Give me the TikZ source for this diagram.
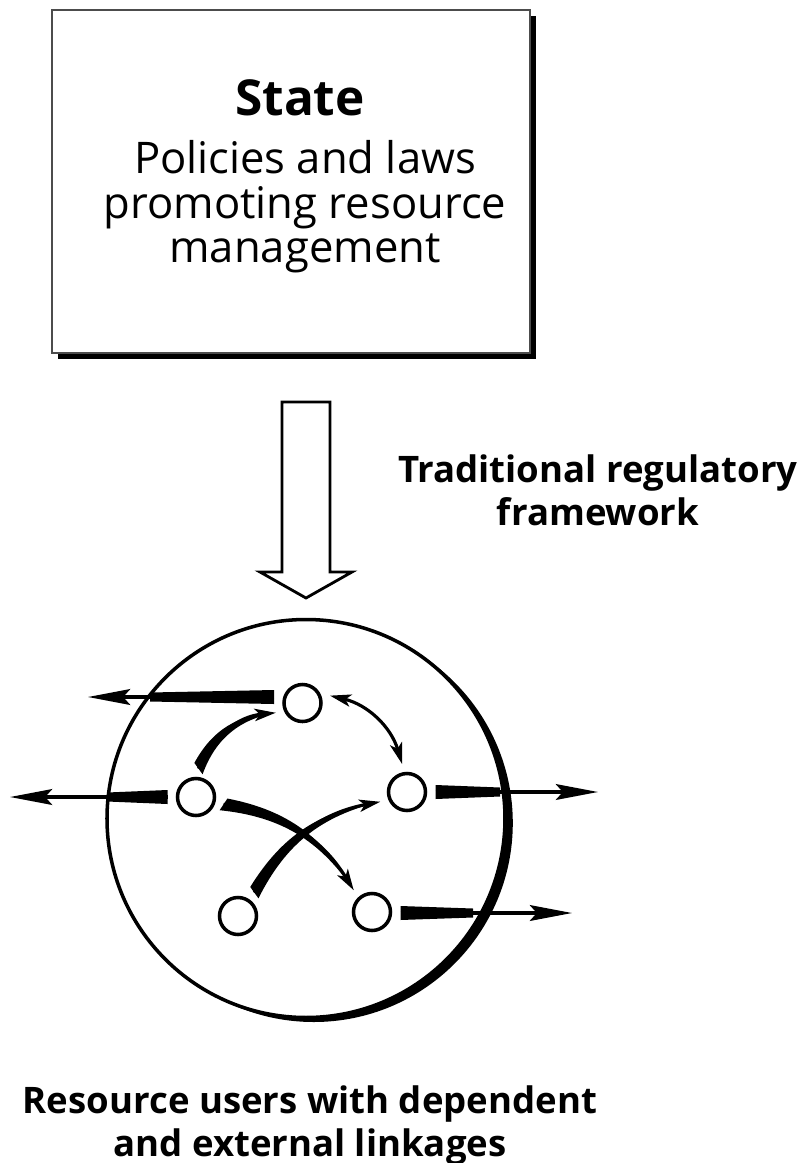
\documentclass[tikz,border=0pt]{standalone}
\usepackage{fontspec}
\setmainfont{Open Sans}
\usetikzlibrary{arrows.meta,calc,shadows}
\tikzset{
  bigtip/.tip={Stealth[length=12pt,width=4.5pt,inset=2pt]},
  smalltip/.tip={Stealth[length=6pt,width=3.5pt,inset=1.5pt]},
  user/.style={draw,circle,line width=1pt,minimum size=0.37cm,inner sep=0pt,outer sep=0.1cm},
  textblock/.style={align=center,inner sep=0pt,font=\fontsize{12.4}{12.65}\selectfont},
  boldblock/.style={align=center,inner sep=0pt,font=\fontsize{10.4}{12.2}\selectfont\bfseries}
}
% tapered curved connector: start, end, bend, tip
\newcommand{\taper}[4]{%
  \fill ($(#1)!0.07cm!90:(#2)$) to[bend left=#3] (#2) to[bend right=#3] ($(#1)!0.07cm!-90:(#2)$) -- cycle;
  \draw[-{#4},line width=0.9pt] (#1) to[bend left=#3] (#2);}
% straight outgoing link: start, end of bar, tip
\newcommand{\outlink}[3]{%
  \fill ($(#1)!0.07cm!90:(#3)$) -- ($(#2)!0.045cm!90:(#3)$) -- ($(#2)!0.045cm!-90:(#3)$) -- ($(#1)!0.07cm!-90:(#3)$) -- cycle;
  \draw[-bigtip,line width=0.9pt] (#1) -- (#3);}

\begin{document}
\begin{tikzpicture}
\useasboundingbox (0,0) rectangle (7.99,-11.63);

% state box
\node[draw=black!70,line width=0.6pt,fill=white,minimum width=4.78cm,minimum height=3.43cm,
  drop shadow={shadow xshift=0.06cm,shadow yshift=-0.06cm,opacity=1,fill=black}] (state) at (2.91,-1.815) {};
\node[anchor=base,font=\fontsize{14.1}{17}\selectfont\bfseries] (title) at (3.00,-1.15) {State};
\node[textblock,anchor=north] (policies) at (3.05,-1.40) {Policies and laws\\promoting resource\\management};

% hollow arrow
\draw[line width=0.8pt,fill=white] (2.82,-4.02) -- (3.30,-4.02) -- (3.30,-5.72) -- (3.52,-5.72)
  -- (3.06,-5.98) -- (2.60,-5.72) -- (2.82,-5.72) -- cycle;
\node[boldblock,anchor=north] (regulation) at (5.98,-4.54) {Traditional regulatory\\framework};

% users
\node[draw,circle,line width=1pt,minimum size=3.98cm,inner sep=0pt] (users) at (3.06,-8.185) {};
\begin{scope}[even odd rule]
  \clip (users.center) circle (1.99) (-1,1) rectangle (9,-13);
  \fill ($(users.center)+(-30:0.09)$) circle (1.99);
\end{scope}

\node[user] (t) at (3.025,-7.03) {};
\node[user] (ul) at (1.96,-7.97) {};
\node[user] (r) at (4.07,-7.92) {};
\node[user] (bl) at (2.38,-9.16) {};
\node[user] (br) at (3.72,-9.12) {};

\coordinate (in1) at (1.50,-6.97);
\coordinate (in2) at (1.07,-7.97);
\coordinate (in3) at (5.00,-7.92);
\coordinate (in4) at (4.73,-9.13);
\coordinate (out1) at (0.88,-6.97);
\coordinate (out2) at (0.10,-7.97);
\coordinate (out3) at (5.98,-7.92);
\coordinate (out4) at (5.72,-9.13);

\outlink{t.west |- out1}{in1}{out1}
\outlink{ul.west}{in2}{out2}
\outlink{r.east}{in3}{out3}
\outlink{br.east |- out4}{in4}{out4}

\taper{ul.85}{t.200}{30}{smalltip}
\taper{ul.-15}{br.130}{25}{smalltip}
\taper{bl.55}{r.200}{25}{smalltip}
\draw[{smalltip}-{smalltip},line width=0.9pt] (t.15) to[bend left=30] (r.100);

\node[boldblock,anchor=north] (caption) at (3.10,-10.85) {Resource users with dependent\\and external linkages};
\end{tikzpicture}
\end{document}
